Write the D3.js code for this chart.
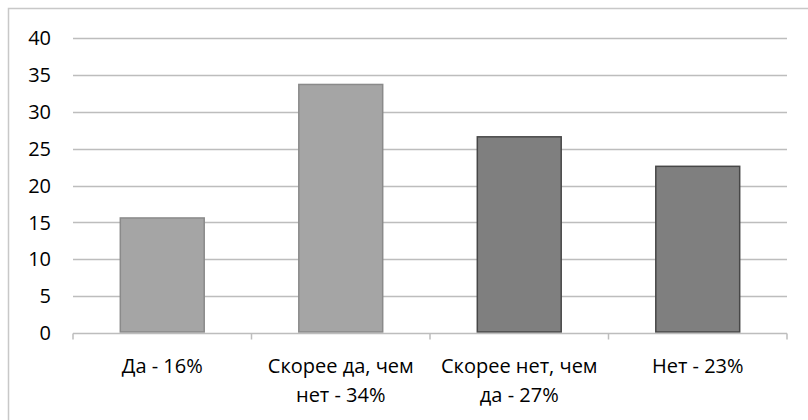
<!DOCTYPE html>
<html>
<head>
<meta charset="utf-8">
<script src="https://cdn.jsdelivr.net/npm/d3@7"></script>
<style>
  body { margin: 0; background: #fff; }
  svg { display: block; font-family: "Open Sans", sans-serif; }
</style>
</head>
<body>
<div id="chart"></div>
<script>
var categories = ["Да - 16%", "Скорее да, чем\nнет - 34%", "Скорее нет, чем\nда - 27%", "Нет - 23%"];
var values = [15.6, 33.7, 26.6, 22.6];
var yTicks = [0, 5, 10, 15, 20, 25, 30, 35, 40];
var fills = ["#a5a5a5", "#a5a5a5", "#7f7f7f", "#7f7f7f"];
var strokes = ["#8a8a8a", "#8a8a8a", "#474747", "#474747"];

var width = 808, height = 420;
var padding = {left: 73, right: 21, top: 38, bottom: 87};

var svg = d3.select("#chart").append("svg")
	.attr("width", width)
	.attr("height", height);

// outer frame (top and left edges visible)
svg.append("path")
	.attr("d", "M8.5,420 V8.5 H808")
	.attr("fill", "none")
	.attr("stroke", "#c8c8c8")
	.attr("stroke-width", 1.5);

var xScale = d3.scaleBand()
	.domain(categories)
	.range([padding.left, width - padding.right])
	.paddingInner(0.53)
	.paddingOuter(0.265);

var yScale = d3.scaleLinear()
	.domain([0, 40])
	.range([height - padding.bottom, padding.top]);

// gridlines
svg.append("g")
	.selectAll("line")
	.data(yTicks.filter(function(d){ return d > 0; }))
	.enter().append("line")
	.attr("x1", padding.left)
	.attr("x2", width - padding.right)
	.attr("y1", function(d){ return Math.round(yScale(d)) + 0.5; })
	.attr("y2", function(d){ return Math.round(yScale(d)) + 0.5; })
	.attr("stroke", "#bdbdbd")
	.attr("stroke-width", 1.5);

// y labels
svg.append("g")
	.selectAll("text")
	.data(yTicks)
	.enter().append("text")
	.attr("x", 51)
	.attr("y", function(d){ return yScale(d); })
	.attr("dy", "0.36em")
	.attr("text-anchor", "end")
	.attr("font-size", "20px")
	.attr("fill", "#000")
	.text(function(d){ return d; });

// bars
svg.append("g")
	.selectAll("rect")
	.data(values)
	.enter().append("rect")
	.attr("x", function(d, i){ return xScale(categories[i]); })
	.attr("width", xScale.bandwidth())
	.attr("y", function(d){ return yScale(d); })
	.attr("height", function(d){ return yScale(0) - yScale(d) - 1; })
	.attr("fill", function(d, i){ return fills[i]; })
	.attr("stroke", function(d, i){ return strokes[i]; })
	.attr("stroke-width", 1.5);

// x axis line with category boundary ticks
var step = xScale.step();
var boundaries = d3.range(categories.length + 1).map(function(i){ return padding.left + i * step; });
var y0 = Math.round(yScale(0)) + 0.5;
var axis = svg.append("g").attr("stroke", "#bdbdbd").attr("stroke-width", 1.5).attr("fill", "none");
axis.append("line")
	.attr("x1", padding.left).attr("x2", width - padding.right)
	.attr("y1", y0).attr("y2", y0);
axis.selectAll("line.tick")
	.data(boundaries)
	.enter().append("line")
	.attr("class", "tick")
	.attr("x1", function(d){ return d; }).attr("x2", function(d){ return d; })
	.attr("y1", y0).attr("y2", y0 + 6);

// category labels
var labels = svg.append("g")
	.selectAll("text")
	.data(categories)
	.enter().append("text")
	.attr("x", function(d){ return xScale(d) + xScale.bandwidth() / 2; })
	.attr("y", 373)
	.attr("text-anchor", "middle")
	.attr("font-size", "20px")
	.attr("fill", "#000");

labels.each(function(d){
	var t = d3.select(this);
	d.split("\n").forEach(function(line, i){
		t.append("tspan")
			.attr("x", t.attr("x"))
			.attr("dy", i == 0 ? 0 : 29)
			.text(line);
	});
});
</script>
</body>
</html>
